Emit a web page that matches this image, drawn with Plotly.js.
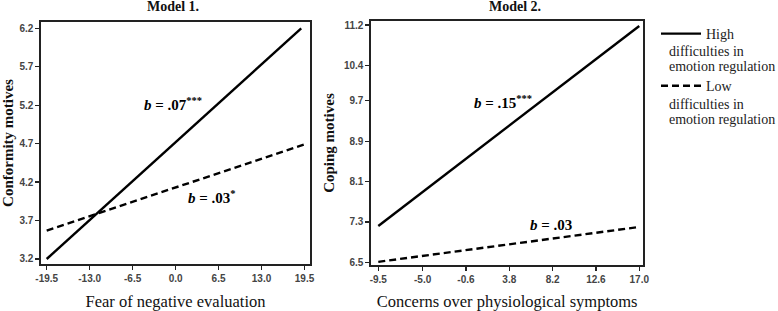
<!DOCTYPE html>
<html>
<head>
<meta charset="utf-8">
<script src="https://cdn.plot.ly/plotly-3.0.1.min.js"></script>
<style>html,body{margin:0;padding:0;background:#fff;}#chart{width:778px;height:311px;}</style>
</head>
<body>
<div id="chart"></div>
<script>
// ---- data ----
const panelTitles = ["Model 1.", "Model 2."];
const xTitles = ["Fear of negative evaluation", "Concerns over physiological symptoms"];
const yTitles = ["Conformity motives", "Coping motives"];
const seriesNames = ["High", "Low"];
const legendRestLines = ["difficulties in", "emotion regulation", "difficulties in", "emotion regulation"];

const m1HighX = [-19.5, 19.0];
const m1HighY = [3.2, 6.2];
const m1LowX = [-19.5, 19.5];
const m1LowY = [3.57, 4.69];

const m2HighX = [-9.5, 17.0];
const m2HighY = [7.22, 11.18];
const m2LowX = [-9.5, 17.0];
const m2LowY = [6.51, 7.2];

const m1XTicks = [-19.5, -13.0, -6.5, 0.0, 6.5, 13.0, 19.5];
const m1YTicks = [3.2, 3.7, 4.2, 4.7, 5.2, 5.7, 6.2];
const m2XTicks = [-9.5, -5.0, -0.6, 3.8, 8.2, 12.6, 17.0];
const m2YTicks = [6.5, 7.3, 8.1, 8.9, 9.7, 10.4, 11.2];

const slopeLabels = ["<i>b</i> = .07<sup>***</sup>", "<i>b</i> = .03<sup>*</sup>", "<i>b</i> = .15<sup>***</sup>", "<i>b</i> = .03"];
const slopeLabelX = [-0.4, 5.5, 3.2, 8.05];
const slopeLabelY = [5.21, 4.01, 9.68, 7.24];
const slopeLabelAxis = ["1", "1", "2", "2"];

// ---- styles ----
const serif = "Liberation Serif, Times New Roman, serif";
const tickFamily = "Liberation Sans Narrow, Arial Narrow, Liberation Sans, Arial, sans-serif";
const lw = 2.4;

const traces = [
  {x: m1HighX, y: m1HighY, xaxis: "x", yaxis: "y", mode: "lines", name: seriesNames[0],
   line: {color: "#000", width: lw}, legendgroup: "h", showlegend: true},
  {x: m1LowX, y: m1LowY, xaxis: "x", yaxis: "y", mode: "lines", name: seriesNames[1],
   line: {color: "#000", width: lw, dash: "7px,4px"}, legendgroup: "l", showlegend: true},
  {x: m2HighX, y: m2HighY, xaxis: "x2", yaxis: "y2", mode: "lines", name: seriesNames[0],
   line: {color: "#000", width: lw}, legendgroup: "h", showlegend: false},
  {x: m2LowX, y: m2LowY, xaxis: "x2", yaxis: "y2", mode: "lines", name: seriesNames[1],
   line: {color: "#000", width: lw, dash: "7px,4px"}, legendgroup: "l", showlegend: false}
];

function axisBase() {
  return {
    showline: true, linecolor: "#222", linewidth: 1.6, mirror: true,
    ticks: "outside", ticklen: 4, tickwidth: 1.3, tickcolor: "#222",
    showgrid: false, zeroline: false, fixedrange: true,
    tickfont: {family: tickFamily, size: 10, color: "#444", weight: "bold"}
  };
}
function fmt(v) { return v.toFixed(1); }

const W = 778, H = 311;
const layout = {
  width: W, height: H,
  margin: {l: 0, r: 0, t: 0, b: 0},
  paper_bgcolor: "#fff", plot_bgcolor: "#fff",
  showlegend: true,
  legend: {x: 656 / W, y: 1 - 18 / H, xanchor: "left", yanchor: "top",
           font: {family: serif, size: 14, color: "#222"},
           tracegroupgap: 31, itemwidth: 40, bgcolor: "rgba(0,0,0,0)"},
  xaxis: Object.assign(axisBase(), {
    domain: [41 / W, 310 / W], range: [-20.36, 20.33], anchor: "y",
    tickvals: m1XTicks, ticktext: m1XTicks.map(fmt),
    title: {text: xTitles[0], font: {family: serif, size: 16.5, color: "#111"}, standoff: 12}
  }),
  yaxis: Object.assign(axisBase(), {
    domain: [1 - 264.3 / H, 1 - 21.7 / H], range: [3.131, 6.286], anchor: "x",
    tickvals: m1YTicks, ticktext: m1YTicks.map(fmt),
    title: {text: "<b>" + yTitles[0] + "</b>", font: {family: serif, size: 15, color: "#111"}, standoff: 5}
  }),
  xaxis2: Object.assign(axisBase(), {
    domain: [371 / W, 643.3 / W], range: [-10.24, 17.41], anchor: "y2",
    tickvals: m2XTicks, ticktext: m2XTicks.map(fmt),
    title: {text: xTitles[1], font: {family: serif, size: 16.5, color: "#111"}, standoff: 12}
  }),
  yaxis2: Object.assign(axisBase(), {
    domain: [1 - 265 / H, 1 - 21 / H], range: [6.447, 11.28], anchor: "x2",
    tickvals: m2YTicks, ticktext: m2YTicks.map(fmt),
    title: {text: "<b>" + yTitles[1] + "</b>", font: {family: serif, size: 15, color: "#111"}, standoff: 5}
  }),
  annotations: []
};

// panel titles
[173 / W, 514.5 / W].forEach((px, i) => {
  layout.annotations.push({xref: "paper", yref: "paper", x: px, y: 1 - 6 / H,
    xanchor: "center", yanchor: "middle", showarrow: false,
    text: "<b>" + panelTitles[i] + "</b>", font: {family: serif, size: 14, color: "#111"}});
});
// slope labels
slopeLabels.forEach((t, i) => {
  const a = slopeLabelAxis[i] === "1" ? "" : "2";
  layout.annotations.push({xref: "x" + a, yref: "y" + a, x: slopeLabelX[i], y: slopeLabelY[i],
    xanchor: "center", yanchor: "middle", showarrow: false,
    text: "<b>" + t + "</b>", font: {family: serif, size: 15, color: "#000"}});
});
// legend continuation lines
[51.7, 66.7, 104.3, 120].forEach((py, i) => {
  layout.annotations.push({xref: "paper", yref: "paper", x: 667 / W, y: 1 - py / H,
    xanchor: "left", yanchor: "middle", align: "left", showarrow: false,
    text: legendRestLines[i], font: {family: serif, size: 14, color: "#222"}});
});

Plotly.newPlot("chart", traces, layout, {displayModeBar: false, staticPlot: true});
</script>
</body>
</html>
